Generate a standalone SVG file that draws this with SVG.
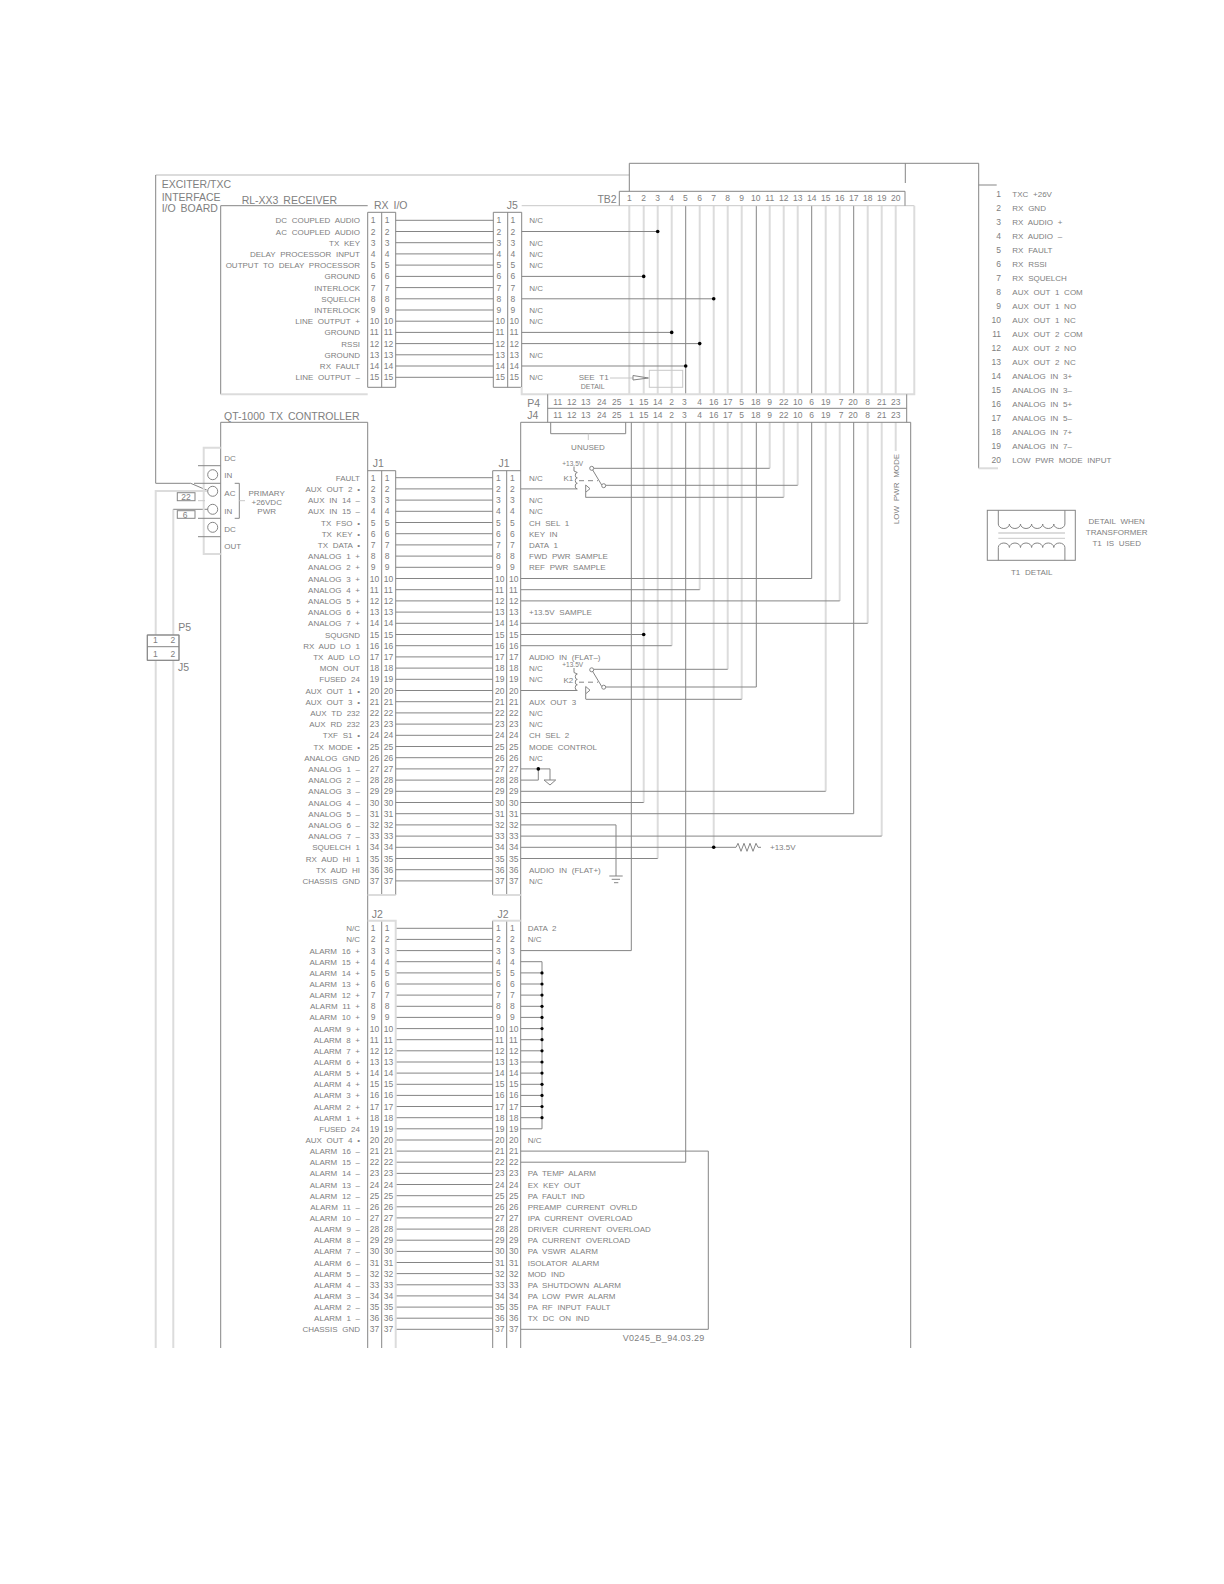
<svg xmlns="http://www.w3.org/2000/svg" width="1224" height="1584" viewBox="0 0 1224 1584">
<style>
text{font-family:"Liberation Sans",Arial,sans-serif;font-size:8px;fill:#808080;word-spacing:2.5px}
.p{font-size:8.5px;word-spacing:0}
.r{text-anchor:end}
.m{text-anchor:middle}
.big{font-size:10.5px;word-spacing:2px}
.sm{font-size:6.5px;word-spacing:0}
path,rect,circle{fill:none}
.w,.w path{stroke:#858585;stroke-width:1}
.b,.b path{stroke:#111;stroke-width:1.1}
.h,.h path{stroke:#dcdcdc;stroke-width:2}
.c,.c path{stroke:#c8c8c8;stroke-width:1}
.d circle{fill:#000;stroke:none}
</style>
<defs>
<g id="relay" class="w">
<path d="M574 466.5V471L577.3 472.5a2 2.7 0 0 0 0 5.4a2 2.7 0 0 0 0 5.4a2 2.7 0 0 0 0 5.6"/>
<path d="M579 480.7H598" stroke-dasharray="5 4"/>
<path d="M592.7 470L601.7 485"/>
<circle cx="591.7" cy="468.3" r="2"/>
<circle cx="603.7" cy="485.7" r="2"/>
<path d="M585.7 485V492.3L590 488.7ZM585.7 492.3V497.5"/>
</g>
</defs>
<rect width="1224" height="1584" fill="#fff" style="fill:#fff"/>

<g id="connectors">
<g id="frame">
<path class="h" d="M155.7 175H629.3"/>
<path class="w" d="M155.7 175V483.3H190.7L208 490.7"/>
<path class="h" d="M155.7 1348V491H208"/>
<path class="h" d="M173.3 1348V509.3"/>
<path class="w" d="M173.3 509.3H208"/>
<path class="w" d="M629.3 191.3V163.3H978.7V468.3"/>
<path class="w" d="M905.3 163.3V183M978.7 185H996.7"/>
<path class="h" d="M978.7 468.3H998"/>
</g>
<g id="rx-wires" class="w">
<path d="M395.7 220.3H493.3"/><path d="M395.7 231.5H493.3"/><path d="M395.7 242.7H493.3"/><path d="M395.7 253.9H493.3"/><path d="M395.7 265.1H493.3"/><path d="M395.7 276.4H493.3"/><path d="M395.7 287.6H493.3"/><path d="M395.7 298.8H493.3"/><path d="M395.7 310H493.3"/>
<path class="c" d="M395.7 321.2H493.3"/><path class="h" d="M395.7 332.4H493.3"/><path class="h" d="M395.7 343.6H493.3"/>
<path d="M395.7 354.8H493.3"/><path d="M395.7 366H493.3"/><path d="M395.7 377.3H493.3"/>
</g>
<g id="tb2-columns">
<g class="h"><path d="M629.3 205.7V394.3"/><path d="M643.7 205.7V394.3M643.7 422.3V802.5"/><path d="M657.7 205.7V394.3M657.7 422.3V858.5"/><path d="M671.7 205.7V394.3M671.7 422.3V645.7"/><path d="M699.7 205.7V394.3M699.7 422.3V589.7"/><path d="M713.7 205.7V394.3M713.7 422.3V847.3"/><path d="M727.7 205.7V394.3M727.7 422.3V669.3"/><path d="M741.7 205.7V394.3M741.7 422.3V699.3"/><path d="M769.7 205.7V394.3M769.7 422.3V468.3"/><path d="M783.7 205.7V394.3M783.7 422.3V497.3"/><path d="M797.7 205.7V394.3M797.7 422.3V485.3"/><path d="M825.7 205.7V394.3M825.7 422.3V791.3"/><path d="M839.7 205.7V394.3M839.7 422.3V600.9"/><path d="M867.7 205.7V394.3M867.7 422.3V623.3"/><path d="M881.7 205.7V394.3M881.7 422.3V836.1"/><path d="M895.7 205.7V394.3M895.7 422.3V451"/></g>
<g class="w"><path d="M631.3 422.3V950.6"/><path d="M685.7 205.7V394.3M685.7 422.3V1162.2"/><path d="M756.3 205.7V394.3M756.3 422.3V687"/><path d="M811.7 205.7V394.3M811.7 422.3V578.5"/><path d="M853.7 205.7V394.3M853.7 422.3V813.7"/></g>
<g class="w" fill="none">
<path d="M521.7 231.5H657.7"/><path d="M521.7 276.4H643.7"/><path d="M521.7 298.8H713.7"/><path d="M521.7 366H685.7"/>
<path class="h" d="M521.7 332.4H671.7"/><path class="h" d="M521.7 343.6H699.7"/>
</g>
<g class="d"><circle cx="657.7" cy="231.5" r="1.8"/><circle cx="643.7" cy="276.4" r="1.8"/><circle cx="713.7" cy="298.8" r="1.8"/><circle cx="671.7" cy="332.4" r="1.8"/><circle cx="699.7" cy="343.6" r="1.8"/><circle cx="685.7" cy="366" r="1.8"/></g>
</g>
<g id="j1-wires" class="w">
<path d="M395.7 477.7H492.7"/><path d="M395.7 488.9H492.7"/><path class="h" d="M395.7 500.1H492.7"/><path d="M395.7 511.3H492.7"/><path d="M395.7 522.5H492.7"/><path d="M395.7 533.7H492.7"/><path d="M395.7 544.9H492.7"/><path class="h" d="M395.7 556.1H492.7"/><path d="M395.7 567.3H492.7"/><path d="M395.7 578.5H492.7"/><path d="M395.7 589.7H492.7"/><path d="M395.7 600.9H492.7"/>
<path class="b" d="M395.7 612.1H492.7"/><path class="b" d="M395.7 623.3H492.7"/><path class="b" d="M395.7 634.5H492.7"/>
<path d="M395.7 645.7H492.7"/><path class="c" d="M395.7 656.9H492.7"/><path class="h" d="M395.7 668.1H492.7"/><path d="M395.7 679.3H492.7"/><path d="M395.7 690.5H492.7"/><path d="M395.7 701.7H492.7"/><path d="M395.7 712.9H492.7"/><path d="M395.7 724.1H492.7"/><path d="M395.7 735.3H492.7"/><path d="M395.7 746.5H492.7"/><path d="M395.7 757.7H492.7"/>
<path class="h" d="M395.7 768.9H492.7"/><path class="h" d="M395.7 780.1H492.7"/><path d="M395.7 791.3H492.7"/><path d="M395.7 802.5H492.7"/><path d="M395.7 813.7H492.7"/><path class="h" d="M395.7 824.9H492.7"/><path d="M395.7 836.1H492.7"/><path d="M395.7 847.3H492.7"/><path d="M395.7 858.5H492.7"/><path d="M395.7 869.7H492.7"/><path d="M395.7 880.9H492.7"/>
</g>
<g id="j1-out" class="w">
<path d="M520.7 488.9H577.3"/>
<path d="M594 468.3H769.7"/><path d="M605.7 485.3H797.7"/><path d="M585.7 497.3H783.7"/>
<path d="M520.7 578.5H811.7"/><path d="M520.7 589.7H699.7"/><path d="M520.7 600.9H839.7"/>
<path class="h" d="M520.7 623.3H867.7"/>
<path d="M520.7 634.5H643.7"/><path d="M520.7 645.7H671.7"/>
<path d="M520.7 690.5H577.3"/>
<path class="h" d="M594 669.3H727.7"/><path d="M605.7 687H756.3"/><path d="M585.7 699.3H741.7"/>
<path d="M520.7 768.9H550V780"/><path d="M520.7 780.1H538.3V768.9"/>
<path d="M520.7 791.3H825.7"/><path d="M520.7 802.5H643.7"/><path d="M520.7 813.7H853.7"/>
<path class="c" d="M520.7 824.9H616"/><path class="c" d="M616 824.9V876"/>
<path d="M520.7 836.1H881.7"/><path d="M520.7 847.3H736"/><path d="M520.7 858.5H657.7"/>
<path d="M544 780H555.7L550 785Z"/>
<path d="M609.3 876H622.7M611.7 879.3H620M614 882.7H618.3"/>
<path d="M736 847.3l2-4 3 8 3-8 3 8 3-8 3 8 3-8 2 4h3"/>
</g>
<g class="d"><circle cx="643.7" cy="634.5" r="1.8"/><circle cx="538.3" cy="768.9" r="1.8"/><circle cx="713.7" cy="847.3" r="1.8"/></g>
<g id="j2-wires" class="w">
<path class="h" d="M395.7 928.3H492.7"/><path class="h" d="M395.7 939.4H492.7"/><path class="h" d="M395.7 950.6H492.7"/><path d="M395.7 961.7H492.7"/>
<path class="b" d="M395.7 972.9H492.7"/><path class="b" d="M395.7 984H492.7"/><path class="b" d="M395.7 995.1H492.7"/>
<path class="h" d="M395.7 1006.3H492.7"/><path class="h" d="M395.7 1017.4H492.7"/>
<path d="M395.7 1028.6H492.7"/><path d="M395.7 1039.7H492.7"/><path d="M395.7 1050.8H492.7"/><path d="M395.7 1062H492.7"/><path d="M395.7 1073.1H492.7"/>
<path class="h" d="M395.7 1084.3H492.7"/><path class="h" d="M395.7 1095.4H492.7"/>
<path d="M395.7 1106.5H492.7"/><path d="M395.7 1117.7H492.7"/><path d="M395.7 1128.8H492.7"/><path d="M395.7 1140H492.7"/><path d="M395.7 1151.1H492.7"/>
<path class="h" d="M395.7 1162.2H492.7"/>
<path d="M395.7 1173.4H492.7"/><path d="M395.7 1184.5H492.7"/><path d="M395.7 1195.7H492.7"/><path d="M395.7 1206.8H492.7"/><path d="M395.7 1217.9H492.7"/><path d="M395.7 1229.1H492.7"/><path d="M395.7 1240.2H492.7"/><path d="M395.7 1251.4H492.7"/><path d="M395.7 1262.5H492.7"/><path d="M395.7 1273.6H492.7"/><path d="M395.7 1284.8H492.7"/><path d="M395.7 1295.9H492.7"/><path d="M395.7 1307.1H492.7"/><path d="M395.7 1318.2H492.7"/><path d="M395.7 1329.3H492.7"/>
</g>
<g id="j2-out" class="w">
<path class="h" d="M520.7 950.6H631.3"/>
<path d="M520.7 961.7H542"/><path class="h" d="M542 961.7V1128.8"/>
<path d="M520.7 972.9H542"/><path d="M520.7 984H542"/><path d="M520.7 995.1H542"/><path class="h" d="M520.7 1006.3H542"/><path class="h" d="M520.7 1017.4H542"/><path d="M520.7 1028.6H542"/><path d="M520.7 1039.7H542"/><path d="M520.7 1050.8H542"/><path d="M520.7 1062H542"/><path d="M520.7 1073.1H542"/><path class="h" d="M520.7 1084.3H542"/><path class="h" d="M520.7 1095.4H542"/><path d="M520.7 1106.5H542"/><path d="M520.7 1117.7H542"/><path d="M520.7 1128.8H542"/>
<path d="M520.7 1151.1H708.3V1329.3H520.7"/>
<path class="h" d="M520.7 1162.2H685.7"/>
</g>
<g class="d"><circle cx="542" cy="972.9" r="1.6"/><circle cx="542" cy="984" r="1.6"/><circle cx="542" cy="995.1" r="1.6"/><circle cx="542" cy="1006.3" r="1.6"/><circle cx="542" cy="1017.4" r="1.6"/><circle cx="542" cy="1028.6" r="1.6"/><circle cx="542" cy="1039.7" r="1.6"/><circle cx="542" cy="1050.8" r="1.6"/><circle cx="542" cy="1062" r="1.6"/><circle cx="542" cy="1073.1" r="1.6"/><circle cx="542" cy="1084.3" r="1.6"/><circle cx="542" cy="1095.4" r="1.6"/><circle cx="542" cy="1106.5" r="1.6"/><circle cx="542" cy="1117.7" r="1.6"/></g>
</g>

<g id="titles">
<text class="big" x="161.7" y="188">EXCITER/TXC</text>
<text class="big" x="161.7" y="200.5">INTERFACE</text>
<text class="big" x="161.7" y="212">I/O BOARD</text>
</g>

<g id="rl-xx3-receiver">
<path class="w" d="M367.7 205.7H220.7V394.3"/><path class="h" d="M220.7 394.3H367.7"/>
<text class="big" x="241.7" y="203.5">RL-XX3 RECEIVER</text>
<g class="r">
<text x="360" y="223.3">DC COUPLED AUDIO</text><text x="360" y="234.5">AC COUPLED AUDIO</text><text x="360" y="245.7">TX KEY</text><text x="360" y="256.9">DELAY PROCESSOR INPUT</text><text x="360" y="268.1">OUTPUT TO DELAY PROCESSOR</text><text x="360" y="279.4">GROUND</text><text x="360" y="290.6">INTERLOCK</text><text x="360" y="301.8">SQUELCH</text><text x="360" y="313">INTERLOCK</text><text x="360" y="324.2">LINE OUTPUT +</text><text x="360" y="335.4">GROUND</text><text x="360" y="346.6">RSSI</text><text x="360" y="357.8">GROUND</text><text x="360" y="369">RX FAULT</text><text x="360" y="380.3">LINE OUTPUT –</text>
</g>
</g>

<g id="rx-io">
<path class="w" d="M367.7 212.3H395.7V387.3H367.7ZM381.7 212.3V387.3"/>
<text class="big" x="374" y="209">RX I/O</text>
<g class="p" transform="translate(369.8 0)"><text class="p" y="223.3" x="1">1</text><text class="p" y="234.5" x="1">2</text><text class="p" y="245.7" x="1">3</text><text class="p" y="256.9" x="1">4</text><text class="p" y="268.1" x="1">5</text><text class="p" y="279.4" x="1">6</text><text class="p" y="290.6" x="1">7</text><text class="p" y="301.8" x="1">8</text><text class="p" y="313" x="1">9</text><text class="p" y="324.2">10</text><text class="p" y="335.4">11</text><text class="p" y="346.6">12</text><text class="p" y="357.8">13</text><text class="p" y="369">14</text><text class="p" y="380.3">15</text></g>
<g class="p" transform="translate(383.8 0)"><text class="p" y="223.3" x="1">1</text><text class="p" y="234.5" x="1">2</text><text class="p" y="245.7" x="1">3</text><text class="p" y="256.9" x="1">4</text><text class="p" y="268.1" x="1">5</text><text class="p" y="279.4" x="1">6</text><text class="p" y="290.6" x="1">7</text><text class="p" y="301.8" x="1">8</text><text class="p" y="313" x="1">9</text><text class="p" y="324.2">10</text><text class="p" y="335.4">11</text><text class="p" y="346.6">12</text><text class="p" y="357.8">13</text><text class="p" y="369">14</text><text class="p" y="380.3">15</text></g>
</g>

<g id="j5">
<path class="w" d="M493.3 212.3H521.7V387.3H493.3ZM507.7 212.3V387.3"/>
<text class="big" x="506.7" y="209">J5</text>
<g transform="translate(495.5 0)"><text class="p" y="223.3" x="1">1</text><text class="p" y="234.5" x="1">2</text><text class="p" y="245.7" x="1">3</text><text class="p" y="256.9" x="1">4</text><text class="p" y="268.1" x="1">5</text><text class="p" y="279.4" x="1">6</text><text class="p" y="290.6" x="1">7</text><text class="p" y="301.8" x="1">8</text><text class="p" y="313" x="1">9</text><text class="p" y="324.2">10</text><text class="p" y="335.4">11</text><text class="p" y="346.6">12</text><text class="p" y="357.8">13</text><text class="p" y="369">14</text><text class="p" y="380.3">15</text></g>
<g transform="translate(509.6 0)"><text class="p" y="223.3" x="1">1</text><text class="p" y="234.5" x="1">2</text><text class="p" y="245.7" x="1">3</text><text class="p" y="256.9" x="1">4</text><text class="p" y="268.1" x="1">5</text><text class="p" y="279.4" x="1">6</text><text class="p" y="290.6" x="1">7</text><text class="p" y="301.8" x="1">8</text><text class="p" y="313" x="1">9</text><text class="p" y="324.2">10</text><text class="p" y="335.4">11</text><text class="p" y="346.6">12</text><text class="p" y="357.8">13</text><text class="p" y="369">14</text><text class="p" y="380.3">15</text></g>
</g>

<g id="interface-box">
<path class="c" d="M521.7 205.7H914.3"/><path class="h" d="M914.3 205.7V394.3H521.7V387"/>
<text x="529.3" y="223.3">N/C</text><text x="529.3" y="245.7">N/C</text><text x="529.3" y="256.9">N/C</text><text x="529.3" y="268.1">N/C</text><text x="529.3" y="290.6">N/C</text><text x="529.3" y="313">N/C</text><text x="529.3" y="324.2">N/C</text><text x="529.3" y="357.8">N/C</text><text x="529.3" y="380.3">N/C</text>
<text x="578.7" y="380.3">SEE T1</text><text class="sm" x="580.7" y="388.5" style="font-size:7px">DETAIL</text>
<path class="c" d="M610 378H633"/><path class="w" d="M633 375.5V380L648.5 378Z"/><rect class="c" x="649.3" y="370.3" width="33.4" height="17"/>
</g>

<g id="tb2">
<path class="w" d="M619.3 205.7V191.3H905V205.7"/>
<text class="big r" x="616.7" y="203">TB2</text>
<g class="m">
<text class="p" x="629.3" y="201.3">1</text><text class="p" x="643.7" y="201.3">2</text><text class="p" x="657.7" y="201.3">3</text><text class="p" x="671.7" y="201.3">4</text><text class="p" x="685.3" y="201.3">5</text><text class="p" x="699.7" y="201.3">6</text><text class="p" x="713.7" y="201.3">7</text><text class="p" x="727.7" y="201.3">8</text><text class="p" x="741.7" y="201.3">9</text><text class="p" x="755.7" y="201.3">10</text><text class="p" x="769.7" y="201.3">11</text><text class="p" x="783.7" y="201.3">12</text><text class="p" x="797.7" y="201.3">13</text><text class="p" x="811.7" y="201.3">14</text><text class="p" x="825.7" y="201.3">15</text><text class="p" x="839.7" y="201.3">16</text><text class="p" x="853.7" y="201.3">17</text><text class="p" x="867.7" y="201.3">18</text><text class="p" x="881.7" y="201.3">19</text><text class="p" x="895.7" y="201.3">20</text>
</g>
</g>

<g id="p4-j4">
<path class="w" d="M547.7 394.3V422.3M906.7 394.3V422.3M547.7 408.3H906.7"/>
<text class="big" x="527.3" y="407">P4</text><text class="big" x="527.3" y="419">J4</text>
<g class="m">
<text class="p" x="557.7" y="404.7">11</text><text class="p" x="571.7" y="404.7">12</text><text class="p" x="585.7" y="404.7">13</text><text class="p" x="601.7" y="404.7">24</text><text class="p" x="616.7" y="404.7">25</text><text class="p" x="631.3" y="404.7">1</text><text class="p" x="643.7" y="404.7">15</text><text class="p" x="657.7" y="404.7">14</text><text class="p" x="671.7" y="404.7">2</text><text class="p" x="684.3" y="404.7">3</text><text class="p" x="699.7" y="404.7">4</text><text class="p" x="713.7" y="404.7">16</text><text class="p" x="727.7" y="404.7">17</text><text class="p" x="741.7" y="404.7">5</text><text class="p" x="755.7" y="404.7">18</text><text class="p" x="769.7" y="404.7">9</text><text class="p" x="783.7" y="404.7">22</text><text class="p" x="797.7" y="404.7">10</text><text class="p" x="811.7" y="404.7">6</text><text class="p" x="825.7" y="404.7">19</text><text class="p" x="841" y="404.7">7</text><text class="p" x="853" y="404.7">20</text><text class="p" x="867.7" y="404.7">8</text><text class="p" x="881.7" y="404.7">21</text><text class="p" x="895.7" y="404.7">23</text>
<text class="p" x="557.7" y="418">11</text><text class="p" x="571.7" y="418">12</text><text class="p" x="585.7" y="418">13</text><text class="p" x="601.7" y="418">24</text><text class="p" x="616.7" y="418">25</text><text class="p" x="631.3" y="418">1</text><text class="p" x="643.7" y="418">15</text><text class="p" x="657.7" y="418">14</text><text class="p" x="671.7" y="418">2</text><text class="p" x="684.3" y="418">3</text><text class="p" x="699.7" y="418">4</text><text class="p" x="713.7" y="418">16</text><text class="p" x="727.7" y="418">17</text><text class="p" x="741.7" y="418">5</text><text class="p" x="755.7" y="418">18</text><text class="p" x="769.7" y="418">9</text><text class="p" x="783.7" y="418">22</text><text class="p" x="797.7" y="418">10</text><text class="p" x="811.7" y="418">6</text><text class="p" x="825.7" y="418">19</text><text class="p" x="841" y="418">7</text><text class="p" x="853" y="418">20</text><text class="p" x="867.7" y="418">8</text><text class="p" x="881.7" y="418">21</text><text class="p" x="895.7" y="418">23</text>
</g>
<path class="w" d="M550.7 422.3V433.7H625.7V422.3"/><path class="c" d="M588.3 433.7V440"/>
<text class="m" x="588" y="450">UNUSED</text>
<text class="m" transform="translate(898.7 489) rotate(-90)">LOW PWR MODE</text>
</g>

<g id="qt-1000-tx-controller">
<path class="w" d="M220.7 1348V422.3H367.7V1348"/>
<text class="big" x="224" y="420">QT-1000 TX CONTROLLER</text>
<path class="w" d="M520.7 1348V422.3H910.7V1348"/>
</g>

<g id="terminal-block">
<path class="h" d="M220.7 447.7H203.7V554H220.7"/>
<path class="w" d="M198 465.7H220.7M194 483.3H220.7M198 518.3H220.7M198 536.7H220.7"/>
<path class="c" d="M198 500.7H205"/>
<circle class="w" cx="212.7" cy="474.7" r="5"/><circle class="w" cx="212.7" cy="491.3" r="5"/><circle class="w" cx="212.7" cy="509.3" r="5"/><circle class="w" cx="212.7" cy="527.3" r="5"/>
<text x="224.3" y="461">DC</text><text x="224.3" y="478">IN</text><text x="224.3" y="496.3">AC</text><text x="224.3" y="513.7">IN</text><text x="224.3" y="531.7">DC</text><text x="224.3" y="549">OUT</text>
<path class="w" d="M234.7 483.3H239.3V518.3H234.7"/><path class="c" d="M239.3 500.7H245"/>
<text class="m" x="266.7" y="495.5">PRIMARY</text><text class="m" x="266.7" y="504.5">+26VDC</text><text class="m" x="266.7" y="513.5">PWR</text>
<rect class="w" x="177.3" y="492.7" width="17.7" height="8"/><text class="p m" x="186" y="500">22</text>
<rect class="w" x="177.3" y="510.7" width="17.7" height="7.6"/><text class="p m" x="185" y="517.5">6</text>
</g>

<g id="p5-j5">
<rect fill="#fff" style="fill:#fff" x="147.3" y="635" width="31.7" height="25.3" stroke="#999"/>
<path class="w" d="M147.3 635H179V660.3H147.3Z"/><path class="w" d="M147.3 646.7H179"/>
<text class="p" x="153" y="643">1</text><text class="p" x="170.5" y="643">2</text><text class="p" x="153" y="656.7">1</text><text class="p" x="170.5" y="656.7">2</text>
<text class="big" x="178.3" y="631">P5</text><text class="big" x="178" y="671">J5</text>
</g>

<g id="j1-left">
<path class="w" d="M367.7 470.7H395.7V895M381.7 470.7V895"/><path class="h" d="M367.7 895H395.7"/>
<text class="big" x="372.7" y="467">J1</text>
<g class="r">
<text x="360" y="480.7">FAULT</text><text x="360" y="491.9">AUX OUT 2 •</text><text x="360" y="503.1">AUX IN 14 –</text><text x="360" y="514.3">AUX IN 15 –</text><text x="360" y="525.5">TX FSO •</text><text x="360" y="536.7">TX KEY •</text><text x="360" y="547.9">TX DATA •</text><text x="360" y="559.1">ANALOG 1 +</text><text x="360" y="570.3">ANALOG 2 +</text><text x="360" y="581.5">ANALOG 3 +</text><text x="360" y="592.7">ANALOG 4 +</text><text x="360" y="603.9">ANALOG 5 +</text><text x="360" y="615.1">ANALOG 6 +</text><text x="360" y="626.3">ANALOG 7 +</text><text x="360" y="637.5">SQUGND</text><text x="360" y="648.7">RX AUD LO 1</text><text x="360" y="659.9">TX AUD LO</text><text x="360" y="671.1">MON OUT</text><text x="360" y="682.3">FUSED 24</text><text x="360" y="693.5">AUX OUT 1 •</text><text x="360" y="704.7">AUX OUT 3 •</text><text x="360" y="715.9">AUX TD 232</text><text x="360" y="727.1">AUX RD 232</text><text x="360" y="738.3">TXF S1 •</text><text x="360" y="749.5">TX MODE •</text><text x="360" y="760.7">ANALOG GND</text><text x="360" y="771.9">ANALOG 1 –</text><text x="360" y="783.1">ANALOG 2 –</text><text x="360" y="794.3">ANALOG 3 –</text><text x="360" y="805.5">ANALOG 4 –</text><text x="360" y="816.7">ANALOG 5 –</text><text x="360" y="827.9">ANALOG 6 –</text><text x="360" y="839.1">ANALOG 7 –</text><text x="360" y="850.3">SQUELCH 1</text><text x="360" y="861.5">RX AUD HI 1</text><text x="360" y="872.7">TX AUD HI</text><text x="360" y="883.9">CHASSIS GND</text>
</g>
<g transform="translate(369.8 0)"><text class="p" y="480.7" x="1">1</text><text class="p" y="491.9" x="1">2</text><text class="p" y="503.1" x="1">3</text><text class="p" y="514.3" x="1">4</text><text class="p" y="525.5" x="1">5</text><text class="p" y="536.7" x="1">6</text><text class="p" y="547.9" x="1">7</text><text class="p" y="559.1" x="1">8</text><text class="p" y="570.3" x="1">9</text><text class="p" y="581.5">10</text><text class="p" y="592.7">11</text><text class="p" y="603.9">12</text><text class="p" y="615.1">13</text><text class="p" y="626.3">14</text><text class="p" y="637.5">15</text><text class="p" y="648.7">16</text><text class="p" y="659.9">17</text><text class="p" y="671.1">18</text><text class="p" y="682.3">19</text><text class="p" y="693.5">20</text><text class="p" y="704.7">21</text><text class="p" y="715.9">22</text><text class="p" y="727.1">23</text><text class="p" y="738.3">24</text><text class="p" y="749.5">25</text><text class="p" y="760.7">26</text><text class="p" y="771.9">27</text><text class="p" y="783.1">28</text><text class="p" y="794.3">29</text><text class="p" y="805.5">30</text><text class="p" y="816.7">31</text><text class="p" y="827.9">32</text><text class="p" y="839.1">33</text><text class="p" y="850.3">34</text><text class="p" y="861.5">35</text><text class="p" y="872.7">36</text><text class="p" y="883.9">37</text></g>
<g transform="translate(383.8 0)"><text class="p" y="480.7" x="1">1</text><text class="p" y="491.9" x="1">2</text><text class="p" y="503.1" x="1">3</text><text class="p" y="514.3" x="1">4</text><text class="p" y="525.5" x="1">5</text><text class="p" y="536.7" x="1">6</text><text class="p" y="547.9" x="1">7</text><text class="p" y="559.1" x="1">8</text><text class="p" y="570.3" x="1">9</text><text class="p" y="581.5">10</text><text class="p" y="592.7">11</text><text class="p" y="603.9">12</text><text class="p" y="615.1">13</text><text class="p" y="626.3">14</text><text class="p" y="637.5">15</text><text class="p" y="648.7">16</text><text class="p" y="659.9">17</text><text class="p" y="671.1">18</text><text class="p" y="682.3">19</text><text class="p" y="693.5">20</text><text class="p" y="704.7">21</text><text class="p" y="715.9">22</text><text class="p" y="727.1">23</text><text class="p" y="738.3">24</text><text class="p" y="749.5">25</text><text class="p" y="760.7">26</text><text class="p" y="771.9">27</text><text class="p" y="783.1">28</text><text class="p" y="794.3">29</text><text class="p" y="805.5">30</text><text class="p" y="816.7">31</text><text class="p" y="827.9">32</text><text class="p" y="839.1">33</text><text class="p" y="850.3">34</text><text class="p" y="861.5">35</text><text class="p" y="872.7">36</text><text class="p" y="883.9">37</text></g>
</g>

<g id="j1-right">
<path class="w" d="M520.7 470.7H492.7V895M506.7 470.7V895"/><path class="h" d="M492.7 895H520.7"/>
<text class="big" x="498.5" y="467">J1</text>
<text x="529" y="480.7">N/C</text><text x="529" y="503.1">N/C</text><text x="529" y="514.3">N/C</text><text x="529" y="525.5">CH SEL 1</text><text x="529" y="536.7">KEY IN</text><text x="529" y="547.9">DATA 1</text><text x="529" y="559.1">FWD PWR SAMPLE</text><text x="529" y="570.3">REF PWR SAMPLE</text><text x="529" y="615.1">+13.5V SAMPLE</text><text x="529" y="659.9">AUDIO IN (FLAT–)</text><text x="529" y="671.1">N/C</text><text x="529" y="682.3">N/C</text><text x="529" y="704.7">AUX OUT 3</text><text x="529" y="715.9">N/C</text><text x="529" y="727.1">N/C</text><text x="529" y="738.3">CH SEL 2</text><text x="529" y="749.5">MODE CONTROL</text><text x="529" y="760.7">N/C</text><text x="529" y="872.7">AUDIO IN (FLAT+)</text><text x="529" y="883.9">N/C</text>
<text x="770" y="850.3">+13.5V</text>
<g transform="translate(495 0)"><text class="p" y="480.7" x="1">1</text><text class="p" y="491.9" x="1">2</text><text class="p" y="503.1" x="1">3</text><text class="p" y="514.3" x="1">4</text><text class="p" y="525.5" x="1">5</text><text class="p" y="536.7" x="1">6</text><text class="p" y="547.9" x="1">7</text><text class="p" y="559.1" x="1">8</text><text class="p" y="570.3" x="1">9</text><text class="p" y="581.5">10</text><text class="p" y="592.7">11</text><text class="p" y="603.9">12</text><text class="p" y="615.1">13</text><text class="p" y="626.3">14</text><text class="p" y="637.5">15</text><text class="p" y="648.7">16</text><text class="p" y="659.9">17</text><text class="p" y="671.1">18</text><text class="p" y="682.3">19</text><text class="p" y="693.5">20</text><text class="p" y="704.7">21</text><text class="p" y="715.9">22</text><text class="p" y="727.1">23</text><text class="p" y="738.3">24</text><text class="p" y="749.5">25</text><text class="p" y="760.7">26</text><text class="p" y="771.9">27</text><text class="p" y="783.1">28</text><text class="p" y="794.3">29</text><text class="p" y="805.5">30</text><text class="p" y="816.7">31</text><text class="p" y="827.9">32</text><text class="p" y="839.1">33</text><text class="p" y="850.3">34</text><text class="p" y="861.5">35</text><text class="p" y="872.7">36</text><text class="p" y="883.9">37</text></g>
<g transform="translate(509 0)"><text class="p" y="480.7" x="1">1</text><text class="p" y="491.9" x="1">2</text><text class="p" y="503.1" x="1">3</text><text class="p" y="514.3" x="1">4</text><text class="p" y="525.5" x="1">5</text><text class="p" y="536.7" x="1">6</text><text class="p" y="547.9" x="1">7</text><text class="p" y="559.1" x="1">8</text><text class="p" y="570.3" x="1">9</text><text class="p" y="581.5">10</text><text class="p" y="592.7">11</text><text class="p" y="603.9">12</text><text class="p" y="615.1">13</text><text class="p" y="626.3">14</text><text class="p" y="637.5">15</text><text class="p" y="648.7">16</text><text class="p" y="659.9">17</text><text class="p" y="671.1">18</text><text class="p" y="682.3">19</text><text class="p" y="693.5">20</text><text class="p" y="704.7">21</text><text class="p" y="715.9">22</text><text class="p" y="727.1">23</text><text class="p" y="738.3">24</text><text class="p" y="749.5">25</text><text class="p" y="760.7">26</text><text class="p" y="771.9">27</text><text class="p" y="783.1">28</text><text class="p" y="794.3">29</text><text class="p" y="805.5">30</text><text class="p" y="816.7">31</text><text class="p" y="827.9">32</text><text class="p" y="839.1">33</text><text class="p" y="850.3">34</text><text class="p" y="861.5">35</text><text class="p" y="872.7">36</text><text class="p" y="883.9">37</text></g>
</g>

<g id="relay-k1">
<use href="#relay"/>
<text class="sm" x="572.7" y="465.5" text-anchor="middle">+13.5V</text><text x="563.5" y="481.3">K1</text>
</g>
<g id="relay-k2">
<use href="#relay" transform="translate(0 201.5)"/>
<text class="sm" x="572.7" y="667" text-anchor="middle">+13.5V</text><text x="563.5" y="682.8">K2</text>
</g>

<g id="j2-left">
<path class="w" d="M381.7 920.7V1348"/><path class="h" d="M367.7 920.7H395.7V1348"/>
<text class="big" x="371.7" y="918">J2</text>
<g class="r">
<text x="360" y="931.3">N/C</text><text x="360" y="942.4">N/C</text><text x="360" y="953.6">ALARM 16 +</text><text x="360" y="964.7">ALARM 15 +</text><text x="360" y="975.9">ALARM 14 +</text><text x="360" y="987">ALARM 13 +</text><text x="360" y="998.1">ALARM 12 +</text><text x="360" y="1009.3">ALARM 11 +</text><text x="360" y="1020.4">ALARM 10 +</text><text x="360" y="1031.6">ALARM 9 +</text><text x="360" y="1042.7">ALARM 8 +</text><text x="360" y="1053.8">ALARM 7 +</text><text x="360" y="1065">ALARM 6 +</text><text x="360" y="1076.1">ALARM 5 +</text><text x="360" y="1087.3">ALARM 4 +</text><text x="360" y="1098.4">ALARM 3 +</text><text x="360" y="1109.5">ALARM 2 +</text><text x="360" y="1120.7">ALARM 1 +</text><text x="360" y="1131.8">FUSED 24</text><text x="360" y="1143">AUX OUT 4 •</text><text x="360" y="1154.1">ALARM 16 –</text><text x="360" y="1165.2">ALARM 15 –</text><text x="360" y="1176.4">ALARM 14 –</text><text x="360" y="1187.5">ALARM 13 –</text><text x="360" y="1198.7">ALARM 12 –</text><text x="360" y="1209.8">ALARM 11 –</text><text x="360" y="1220.9">ALARM 10 –</text><text x="360" y="1232.1">ALARM 9 –</text><text x="360" y="1243.2">ALARM 8 –</text><text x="360" y="1254.4">ALARM 7 –</text><text x="360" y="1265.5">ALARM 6 –</text><text x="360" y="1276.6">ALARM 5 –</text><text x="360" y="1287.8">ALARM 4 –</text><text x="360" y="1298.9">ALARM 3 –</text><text x="360" y="1310.1">ALARM 2 –</text><text x="360" y="1321.2">ALARM 1 –</text><text x="360" y="1332.3">CHASSIS GND</text>
</g>
<g transform="translate(369.8 0)"><text class="p" y="931.3" x="1">1</text><text class="p" y="942.4" x="1">2</text><text class="p" y="953.6" x="1">3</text><text class="p" y="964.7" x="1">4</text><text class="p" y="975.9" x="1">5</text><text class="p" y="987" x="1">6</text><text class="p" y="998.1" x="1">7</text><text class="p" y="1009.3" x="1">8</text><text class="p" y="1020.4" x="1">9</text><text class="p" y="1031.6">10</text><text class="p" y="1042.7">11</text><text class="p" y="1053.8">12</text><text class="p" y="1065">13</text><text class="p" y="1076.1">14</text><text class="p" y="1087.3">15</text><text class="p" y="1098.4">16</text><text class="p" y="1109.5">17</text><text class="p" y="1120.7">18</text><text class="p" y="1131.8">19</text><text class="p" y="1143">20</text><text class="p" y="1154.1">21</text><text class="p" y="1165.2">22</text><text class="p" y="1176.4">23</text><text class="p" y="1187.5">24</text><text class="p" y="1198.7">25</text><text class="p" y="1209.8">26</text><text class="p" y="1220.9">27</text><text class="p" y="1232.1">28</text><text class="p" y="1243.2">29</text><text class="p" y="1254.4">30</text><text class="p" y="1265.5">31</text><text class="p" y="1276.6">32</text><text class="p" y="1287.8">33</text><text class="p" y="1298.9">34</text><text class="p" y="1310.1">35</text><text class="p" y="1321.2">36</text><text class="p" y="1332.3">37</text></g>
<g transform="translate(383.8 0)"><text class="p" y="931.3" x="1">1</text><text class="p" y="942.4" x="1">2</text><text class="p" y="953.6" x="1">3</text><text class="p" y="964.7" x="1">4</text><text class="p" y="975.9" x="1">5</text><text class="p" y="987" x="1">6</text><text class="p" y="998.1" x="1">7</text><text class="p" y="1009.3" x="1">8</text><text class="p" y="1020.4" x="1">9</text><text class="p" y="1031.6">10</text><text class="p" y="1042.7">11</text><text class="p" y="1053.8">12</text><text class="p" y="1065">13</text><text class="p" y="1076.1">14</text><text class="p" y="1087.3">15</text><text class="p" y="1098.4">16</text><text class="p" y="1109.5">17</text><text class="p" y="1120.7">18</text><text class="p" y="1131.8">19</text><text class="p" y="1143">20</text><text class="p" y="1154.1">21</text><text class="p" y="1165.2">22</text><text class="p" y="1176.4">23</text><text class="p" y="1187.5">24</text><text class="p" y="1198.7">25</text><text class="p" y="1209.8">26</text><text class="p" y="1220.9">27</text><text class="p" y="1232.1">28</text><text class="p" y="1243.2">29</text><text class="p" y="1254.4">30</text><text class="p" y="1265.5">31</text><text class="p" y="1276.6">32</text><text class="p" y="1287.8">33</text><text class="p" y="1298.9">34</text><text class="p" y="1310.1">35</text><text class="p" y="1321.2">36</text><text class="p" y="1332.3">37</text></g>
</g>

<g id="j2-right">
<path class="w" d="M492.7 920.7V1348M506.7 920.7V1348"/><path class="h" d="M492.7 920.7H520.7"/>
<text class="big" x="497.5" y="918">J2</text>
<text x="527.7" y="931.3">DATA 2</text><text x="527.7" y="942.4">N/C</text><text x="527.7" y="1143">N/C</text><text x="527.7" y="1176.4">PA TEMP ALARM</text><text x="527.7" y="1187.5">EX KEY OUT</text><text x="527.7" y="1198.7">PA FAULT IND</text><text x="527.7" y="1209.8">PREAMP CURRENT OVRLD</text><text x="527.7" y="1220.9">IPA CURRENT OVERLOAD</text><text x="527.7" y="1232.1">DRIVER CURRENT OVERLOAD</text><text x="527.7" y="1243.2">PA CURRENT OVERLOAD</text><text x="527.7" y="1254.4">PA VSWR ALARM</text><text x="527.7" y="1265.5">ISOLATOR ALARM</text><text x="527.7" y="1276.6">MOD IND</text><text x="527.7" y="1287.8">PA SHUTDOWN ALARM</text><text x="527.7" y="1298.9">PA LOW PWR ALARM</text><text x="527.7" y="1310.1">PA RF INPUT FAULT</text><text x="527.7" y="1321.2">TX DC ON IND</text>
<text x="622.7" y="1341" style="font-size:9px;letter-spacing:.3px">V0245_B_94.03.29</text>
<g transform="translate(495 0)"><text class="p" y="931.3" x="1">1</text><text class="p" y="942.4" x="1">2</text><text class="p" y="953.6" x="1">3</text><text class="p" y="964.7" x="1">4</text><text class="p" y="975.9" x="1">5</text><text class="p" y="987" x="1">6</text><text class="p" y="998.1" x="1">7</text><text class="p" y="1009.3" x="1">8</text><text class="p" y="1020.4" x="1">9</text><text class="p" y="1031.6">10</text><text class="p" y="1042.7">11</text><text class="p" y="1053.8">12</text><text class="p" y="1065">13</text><text class="p" y="1076.1">14</text><text class="p" y="1087.3">15</text><text class="p" y="1098.4">16</text><text class="p" y="1109.5">17</text><text class="p" y="1120.7">18</text><text class="p" y="1131.8">19</text><text class="p" y="1143">20</text><text class="p" y="1154.1">21</text><text class="p" y="1165.2">22</text><text class="p" y="1176.4">23</text><text class="p" y="1187.5">24</text><text class="p" y="1198.7">25</text><text class="p" y="1209.8">26</text><text class="p" y="1220.9">27</text><text class="p" y="1232.1">28</text><text class="p" y="1243.2">29</text><text class="p" y="1254.4">30</text><text class="p" y="1265.5">31</text><text class="p" y="1276.6">32</text><text class="p" y="1287.8">33</text><text class="p" y="1298.9">34</text><text class="p" y="1310.1">35</text><text class="p" y="1321.2">36</text><text class="p" y="1332.3">37</text></g>
<g transform="translate(509 0)"><text class="p" y="931.3" x="1">1</text><text class="p" y="942.4" x="1">2</text><text class="p" y="953.6" x="1">3</text><text class="p" y="964.7" x="1">4</text><text class="p" y="975.9" x="1">5</text><text class="p" y="987" x="1">6</text><text class="p" y="998.1" x="1">7</text><text class="p" y="1009.3" x="1">8</text><text class="p" y="1020.4" x="1">9</text><text class="p" y="1031.6">10</text><text class="p" y="1042.7">11</text><text class="p" y="1053.8">12</text><text class="p" y="1065">13</text><text class="p" y="1076.1">14</text><text class="p" y="1087.3">15</text><text class="p" y="1098.4">16</text><text class="p" y="1109.5">17</text><text class="p" y="1120.7">18</text><text class="p" y="1131.8">19</text><text class="p" y="1143">20</text><text class="p" y="1154.1">21</text><text class="p" y="1165.2">22</text><text class="p" y="1176.4">23</text><text class="p" y="1187.5">24</text><text class="p" y="1198.7">25</text><text class="p" y="1209.8">26</text><text class="p" y="1220.9">27</text><text class="p" y="1232.1">28</text><text class="p" y="1243.2">29</text><text class="p" y="1254.4">30</text><text class="p" y="1265.5">31</text><text class="p" y="1276.6">32</text><text class="p" y="1287.8">33</text><text class="p" y="1298.9">34</text><text class="p" y="1310.1">35</text><text class="p" y="1321.2">36</text><text class="p" y="1332.3">37</text></g>
</g>

<g id="legend">
<g class="r">
<text class="p" x="1001" y="196.7">1</text><text class="p" x="1001" y="210.7">2</text><text class="p" x="1001" y="224.7">3</text><text class="p" x="1001" y="238.7">4</text><text class="p" x="1001" y="252.7">5</text><text class="p" x="1001" y="266.7">6</text><text class="p" x="1001" y="280.7">7</text><text class="p" x="1001" y="294.7">8</text><text class="p" x="1001" y="308.7">9</text><text class="p" x="1001" y="322.7">10</text><text class="p" x="1001" y="336.7">11</text><text class="p" x="1001" y="350.7">12</text><text class="p" x="1001" y="364.7">13</text><text class="p" x="1001" y="378.7">14</text><text class="p" x="1001" y="392.7">15</text><text class="p" x="1001" y="406.7">16</text><text class="p" x="1001" y="420.7">17</text><text class="p" x="1001" y="434.7">18</text><text class="p" x="1001" y="448.7">19</text><text class="p" x="1001" y="462.7">20</text>
</g>
<text x="1012.3" y="196.7">TXC +26V</text><text x="1012.3" y="210.7">RX GND</text><text x="1012.3" y="224.7">RX AUDIO +</text><text x="1012.3" y="238.7">RX AUDIO –</text><text x="1012.3" y="252.7">RX FAULT</text><text x="1012.3" y="266.7">RX RSSI</text><text x="1012.3" y="280.7">RX SQUELCH</text><text x="1012.3" y="294.7">AUX OUT 1 COM</text><text x="1012.3" y="308.7">AUX OUT 1 NO</text><text x="1012.3" y="322.7">AUX OUT 1 NC</text><text x="1012.3" y="336.7">AUX OUT 2 COM</text><text x="1012.3" y="350.7">AUX OUT 2 NO</text><text x="1012.3" y="364.7">AUX OUT 2 NC</text><text x="1012.3" y="378.7">ANALOG IN 3+</text><text x="1012.3" y="392.7">ANALOG IN 3–</text><text x="1012.3" y="406.7">ANALOG IN 5+</text><text x="1012.3" y="420.7">ANALOG IN 5–</text><text x="1012.3" y="434.7">ANALOG IN 7+</text><text x="1012.3" y="448.7">ANALOG IN 7–</text><text x="1012.3" y="462.7">LOW PWR MODE INPUT</text>
</g>

<g id="t1-detail">
<rect class="w" x="987.3" y="510.3" width="88" height="50"/>
<path class="w" d="M998.3 510.3V524a5.55 4.5 0 0 0 11.1 0a5.55 4.5 0 0 0 11.1 0a5.55 4.5 0 0 0 11.1 0a5.55 4.5 0 0 0 11.1 0a5.55 4.5 0 0 0 11.1 0a5.55 4.5 0 0 0 11.1 0V510.3"/>
<path class="h" d="M998.3 533H1065"/><path class="c" d="M998.3 538.3H1065"/>
<path class="w" d="M998.3 560.3V547.5a5.55 4.5 0 0 1 11.1 0a5.55 4.5 0 0 1 11.1 0a5.55 4.5 0 0 1 11.1 0a5.55 4.5 0 0 1 11.1 0a5.55 4.5 0 0 1 11.1 0a5.55 4.5 0 0 1 11.1 0V560.3"/>
<text class="m" x="1031.7" y="575">T1 DETAIL</text>
<text class="m" x="1116.7" y="524">DETAIL WHEN</text><text class="m" x="1116.7" y="535">TRANSFORMER</text><text class="m" x="1116.7" y="546">T1 IS USED</text>
</g>
</svg>
